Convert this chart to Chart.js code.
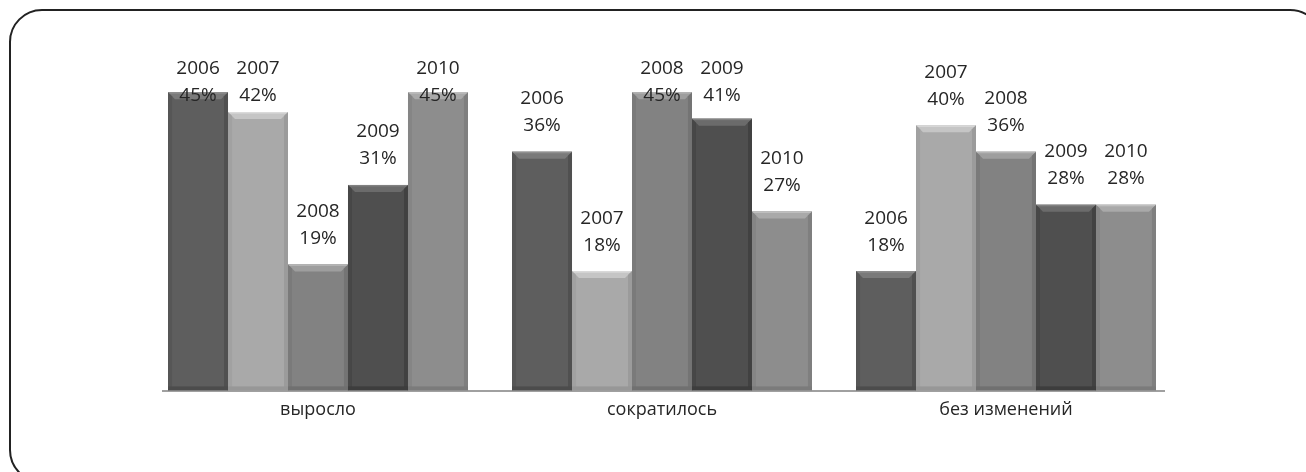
<!DOCTYPE html>
<html>
<head>
<meta charset="utf-8">
<script src="https://cdn.jsdelivr.net/npm/chart.js@4/dist/chart.umd.min.js"></script>
<style>
  html, body { margin: 0; padding: 0; background: #fff; }
  #wrap { width: 1306px; height: 472px; position: relative; }
</style>
</head>
<body>
<div id="wrap"><canvas id="myChart" width="1306" height="472"></canvas></div>
<script>
var categories = ["выросло", "сократилось", "без изменений"];
var years = ["2006", "2007", "2008", "2009", "2010"];
var values2006 = [45, 36, 18];
var values2007 = [42, 18, 40];
var values2008 = [19, 45, 36];
var values2009 = [31, 41, 28];
var values2010 = [45, 27, 28];
var barColors = ["#5e5e5e", "#a9a9a9", "#828282", "#4f4f4f", "#8d8d8d"];

var seriesValues = [values2006, values2007, values2008, values2009, values2010];

function shade(hex, amt) {
  var n = parseInt(hex.slice(1), 16);
  var r = Math.max(0, Math.min(255, (n >> 16) + amt));
  var g = Math.max(0, Math.min(255, ((n >> 8) & 255) + amt));
  var b = Math.max(0, Math.min(255, (n & 255) + amt));
  return "rgb(" + r + "," + g + "," + b + ")";
}

// rounded frame round the whole picture
var framePlugin = {
  id: "frame",
  beforeDraw: function(chart) {
    var c = chart.ctx;
    c.save();
    c.fillStyle = "#fff";
    c.fillRect(0, 0, chart.width, chart.height);
    c.strokeStyle = "#222";
    c.lineWidth = 2;
    c.beginPath();
    c.roundRect(10, 10, 1312, 472, 32);
    c.stroke();
    c.restore();
  }
};

// bevel look on each bar + the two line labels
var bevelPlugin = {
  id: "bevel",
  afterDatasetsDraw: function(chart) {
    var c = chart.ctx;
    var area = chart.chartArea;
    c.save();
    // baseline
    c.strokeStyle = "#a0a0a0";
    c.lineWidth = 2;
    c.beginPath();
    c.moveTo(area.left + 16, area.bottom + 0.5);
    c.lineTo(area.right - 13, area.bottom + 0.5);
    c.stroke();

    chart.data.datasets.forEach(function(ds, i) {
      var meta = chart.getDatasetMeta(i);
      var col = barColors[i];
      meta.data.forEach(function(bar, j) {
        var l = bar.x - bar.width / 2, r = bar.x + bar.width / 2;
        var t = bar.y, b = bar.base;
        var e = 7;
        // top bevel
        c.fillStyle = shade(col, 28);
        c.beginPath();
        c.moveTo(l, t); c.lineTo(r, t); c.lineTo(r - e, t + e); c.lineTo(l + e, t + e);
        c.closePath(); c.fill();
        // light top edge
        c.fillStyle = shade(col, 50);
        c.fillRect(l, t, bar.width, 1.5);
        // side edges
        c.fillStyle = shade(col, -14);
        c.beginPath();
        c.moveTo(r, t); c.lineTo(r, b); c.lineTo(r - 4, b - 4); c.lineTo(r - 4, t + 4);
        c.closePath(); c.fill();
        c.fillStyle = shade(col, -8);
        c.beginPath();
        c.moveTo(l, t); c.lineTo(l, b); c.lineTo(l + 4, b - 4); c.lineTo(l + 4, t + 4);
        c.closePath(); c.fill();
        c.fillStyle = shade(col, -18);
        c.fillRect(l, b - 4, bar.width, 4);

        // labels
        var y1 = Math.max(t - 53, area.top + 10);
        c.fillStyle = "#262626";
        c.font = "19px 'Open Sans'";
        c.textAlign = "center";
        c.textBaseline = "middle";
        c.fillText(ds.label, bar.x, y1);
        c.fillText(ds.data[j] + "%", bar.x, y1 + 27);
      });
    });
    c.restore();
  }
};

var ctx = document.getElementById("myChart").getContext("2d");
var chart = new Chart(ctx, {
  type: "bar",
  data: {
    labels: categories,
    datasets: years.map(function(y, i) {
      return {
        label: y,
        data: seriesValues[i],
        backgroundColor: barColors[i],
        borderWidth: 0
      };
    })
  },
  options: {
    responsive: false,
    animation: false,
    devicePixelRatio: 1,
    layout: { padding: { left: 146, right: 128, top: 59, bottom: 42 } },
    plugins: {
      legend: { display: false },
      tooltip: { enabled: false }
    },
    datasets: { bar: { categoryPercentage: 0.872, barPercentage: 1 } },
    scales: {
      x: {
        grid: { display: false, drawTicks: false },
        border: { display: false },
        ticks: { color: "#262626", font: { family: "'Open Sans'", size: 18 }, padding: 9 }
      },
      y: { display: false, min: 0, max: 50 }
    }
  },
  plugins: [framePlugin, bevelPlugin]
});
</script>
</body>
</html>
